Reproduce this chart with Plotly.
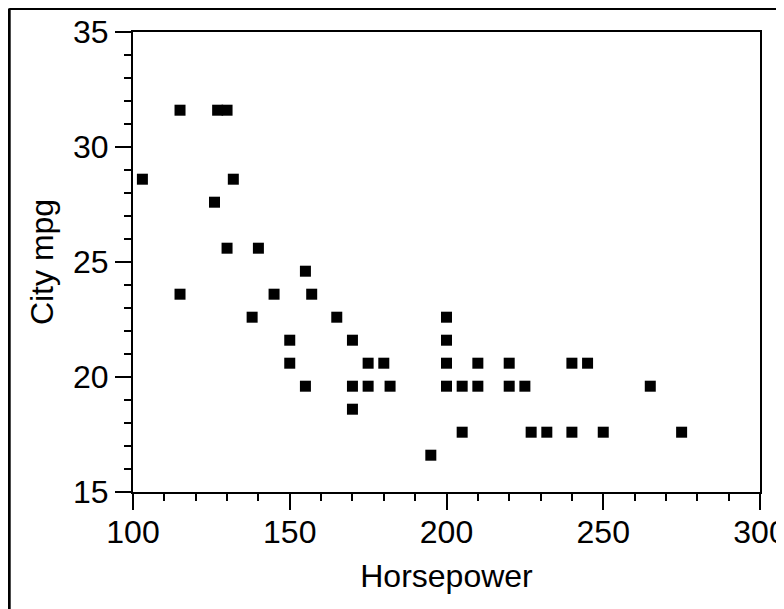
import plotly.graph_objects as go

horsepower = [115, 127, 130,
              103, 132,
              126,
              130, 140,
              155,
              115, 145, 157,
              138, 165, 200,
              150, 170, 200,
              150, 175, 180, 200, 210, 220, 240, 245,
              155, 170, 175, 182, 200, 205, 210, 220, 225, 265,
              170,
              205, 227, 232, 240, 250, 275,
              195]
city_mpg = [31.6, 31.6, 31.6,
            28.6, 28.6,
            27.6,
            25.6, 25.6,
            24.6,
            23.6, 23.6, 23.6,
            22.6, 22.6, 22.6,
            21.6, 21.6, 21.6,
            20.6, 20.6, 20.6, 20.6, 20.6, 20.6, 20.6, 20.6,
            19.6, 19.6, 19.6, 19.6, 19.6, 19.6, 19.6, 19.6, 19.6, 19.6,
            18.6,
            17.6, 17.6, 17.6, 17.6, 17.6, 17.6,
            16.6]

FONT = "Liberation Sans, Arial, sans-serif"

fig = go.Figure(go.Scatter(
    x=horsepower, y=city_mpg, mode="markers",
    marker=dict(symbol="square", size=11, color="black", line=dict(width=0)),
    showlegend=False,
))

# figure is offset by the 8px page margin; coordinates below are in figure space
W, H = 784, 609
L, T = 125, 24
R = W - 752
B = H - 484
pw, ph = W - L - R, H - T - B

axis_common = dict(
    showline=True, linewidth=2, linecolor="black", mirror=True,
    ticks="outside", ticklen=16, tickwidth=2, tickcolor="black",
    showgrid=False, zeroline=False,
    tickfont=dict(family=FONT, size=32, color="black"),
)

fig.update_xaxes(range=[100, 300], tick0=100, dtick=50, ticklabelstandoff=-5,
                 minor=dict(ticks="outside", ticklen=7, tickwidth=2, tickcolor="black", dtick=10, tick0=100),
                 title=dict(text="Horsepower", font=dict(family=FONT, size=32, color="black"), standoff=15),
                 **axis_common)
fig.update_yaxes(range=[15, 35], tick0=15, dtick=5,
                 minor=dict(ticks="outside", ticklen=7, tickwidth=2, tickcolor="black", dtick=1, tick0=15),
                 title=dict(text="City mpg", font=dict(family=FONT, size=32, color="black"), standoff=10),
                 **axis_common)

# outer frame (left and top edges visible, rest is outside the window)
x_left = (1.2 - L) / pw
y_top = (H - B - 0.5) / ph
fig.add_shape(type="line", xref="paper", yref="paper", x0=x_left, x1=1.3, y0=y_top, y1=y_top,
              line=dict(color="black", width=3))
fig.add_shape(type="line", xref="paper", yref="paper", x0=x_left, x1=x_left, y0=y_top, y1=-0.5,
              line=dict(color="black", width=3))

fig.update_layout(
    width=W, height=H,
    margin=dict(l=L, r=R, t=T, b=B, autoexpand=False),
    paper_bgcolor="white", plot_bgcolor="white",
    font=dict(family=FONT, color="black"),
)

fig.write_html("out.html")
